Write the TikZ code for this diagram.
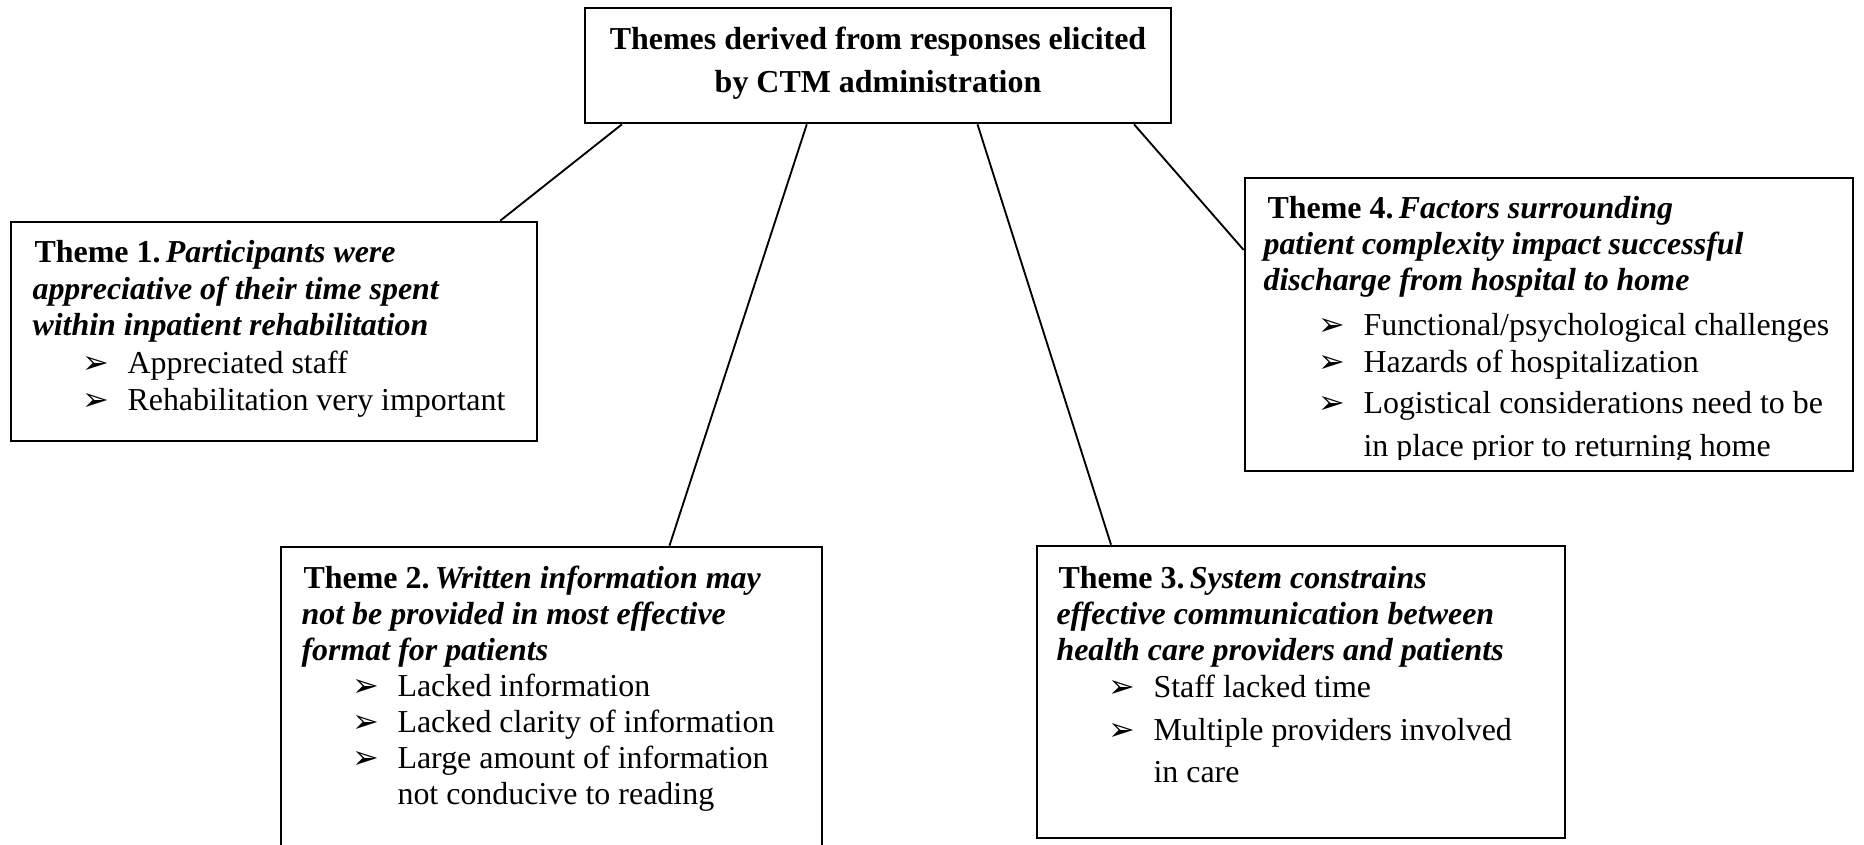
\documentclass[tikz,border=0pt]{standalone}
\usepackage{fontspec}
\setmainfont{Liberation Serif}
\newfontfamily\dvfont{DejaVu Sans}
\usetikzlibrary{fit,calc}
\newcommand{\bul}{\makebox[16.9pt][l]{\dvfont\fontsize{12}{12}\selectfont ➢}}
\begin{document}
\begin{tikzpicture}[x=0.3757pt,y=-0.3757pt,
  box/.style={draw,line width=1pt,inner sep=0pt},
  conn/.style={line width=0.7pt},
  txt/.style={anchor=base west,inner sep=0pt,font=\fontsize{12}{14}\selectfont},
  ttl/.style={anchor=base,inner sep=0pt,font=\fontsize{12}{14}\selectfont\bfseries}]
\useasboundingbox (0,0) rectangle (1864,845);
% boxes
\node[box,fit={(585,8) (1171,123)}] (top) {};
\node[box,fit={(11,222) (537,441)}] (t1) {};
\node[box,fit={(1245,178) (1853,471)}] (t4) {};
\node[box,fit={(281,547) (822,870)}] (t2) {};
\node[box,fit={(1037,546) (1565,838)}] (t3) {};
% title
\node[ttl] (ta) at (878,50) {Themes derived from responses elicited};
\node[ttl] (tb) at (878,93) {by CTM administration};
% theme 1
\node[txt] (a1) at (34,263) {\textbf{Theme 1.\,\textit{Participants were}}};
\node[txt] (a2) at (32,299) {\textbf{\textit{appreciative of their time spent}}};
\node[txt] (a3) at (32,335) {\textbf{\textit{within inpatient rehabilitation}}};
\node[txt] (a4) at (82,374) {\bul Appreciated staff};
\node[txt] (a5) at (82,410) {\bul Rehabilitation very important};
% theme 2
\node[txt] (b1) at (303,588) {\textbf{Theme 2.\,\textit{Written information may}}};
\node[txt] (b2) at (301,624) {\textbf{\textit{not be provided in most effective}}};
\node[txt] (b3) at (301,660) {\textbf{\textit{format for patients}}};
\node[txt] (b4) at (352,696) {\bul Lacked information};
\node[txt] (b5) at (352,732) {\bul Lacked clarity of information};
\node[txt] (b6) at (352,768) {\bul Large amount of information};
\node[txt] (b7) at (397,804) {not conducive to reading};
% theme 3
\node[txt] (c1) at (1058,588) {\textbf{Theme 3.\,\textit{System constrains}}};
\node[txt] (c2) at (1056,624) {\textbf{\textit{effective communication between}}};
\node[txt] (c3) at (1056,660) {\textbf{\textit{health care providers and patients}}};
\node[txt] (c4) at (1108,697) {\bul Staff lacked time};
\node[txt] (c5) at (1108,740) {\bul Multiple providers involved};
\node[txt] (c6) at (1153,782) {in care};
% theme 4
\node[txt] (d1) at (1267,219) {\textbf{Theme 4.\,\textit{Factors surrounding}}};
\node[txt] (d2) at (1263,255) {\textbf{\textit{patient complexity impact successful}}};
\node[txt] (d3) at (1263,291) {\textbf{\textit{discharge from hospital to home}}};
\node[txt] (d4) at (1318,335) {\bul Functional/psychological challenges};
\node[txt] (d5) at (1318,372) {\bul Hazards of hospitalization};
\node[txt] (d6) at (1318,413) {\bul Logistical considerations need to be};
\begin{scope}
\clip (1246,430) rectangle (1852,459);
\node[txt] (d7) at (1363,456) {in place prior to returning home};
\end{scope}
% connectors
\draw[conn] ($(top.south west)!0.065!(top.south east)$) -- ($(t1.north west)!0.928!(t1.north east)$);
\draw[conn] ($(top.south west)!0.379!(top.south east)$) -- ($(t2.north west)!0.717!(t2.north east)$);
\draw[conn] ($(top.south west)!0.669!(top.south east)$) -- ($(t3.north west)!0.142!(t3.north east)$);
\draw[conn] ($(top.south west)!0.935!(top.south east)$) -- ($(t4.north west)!0.248!(t4.south west)$);
\end{tikzpicture}
\end{document}
